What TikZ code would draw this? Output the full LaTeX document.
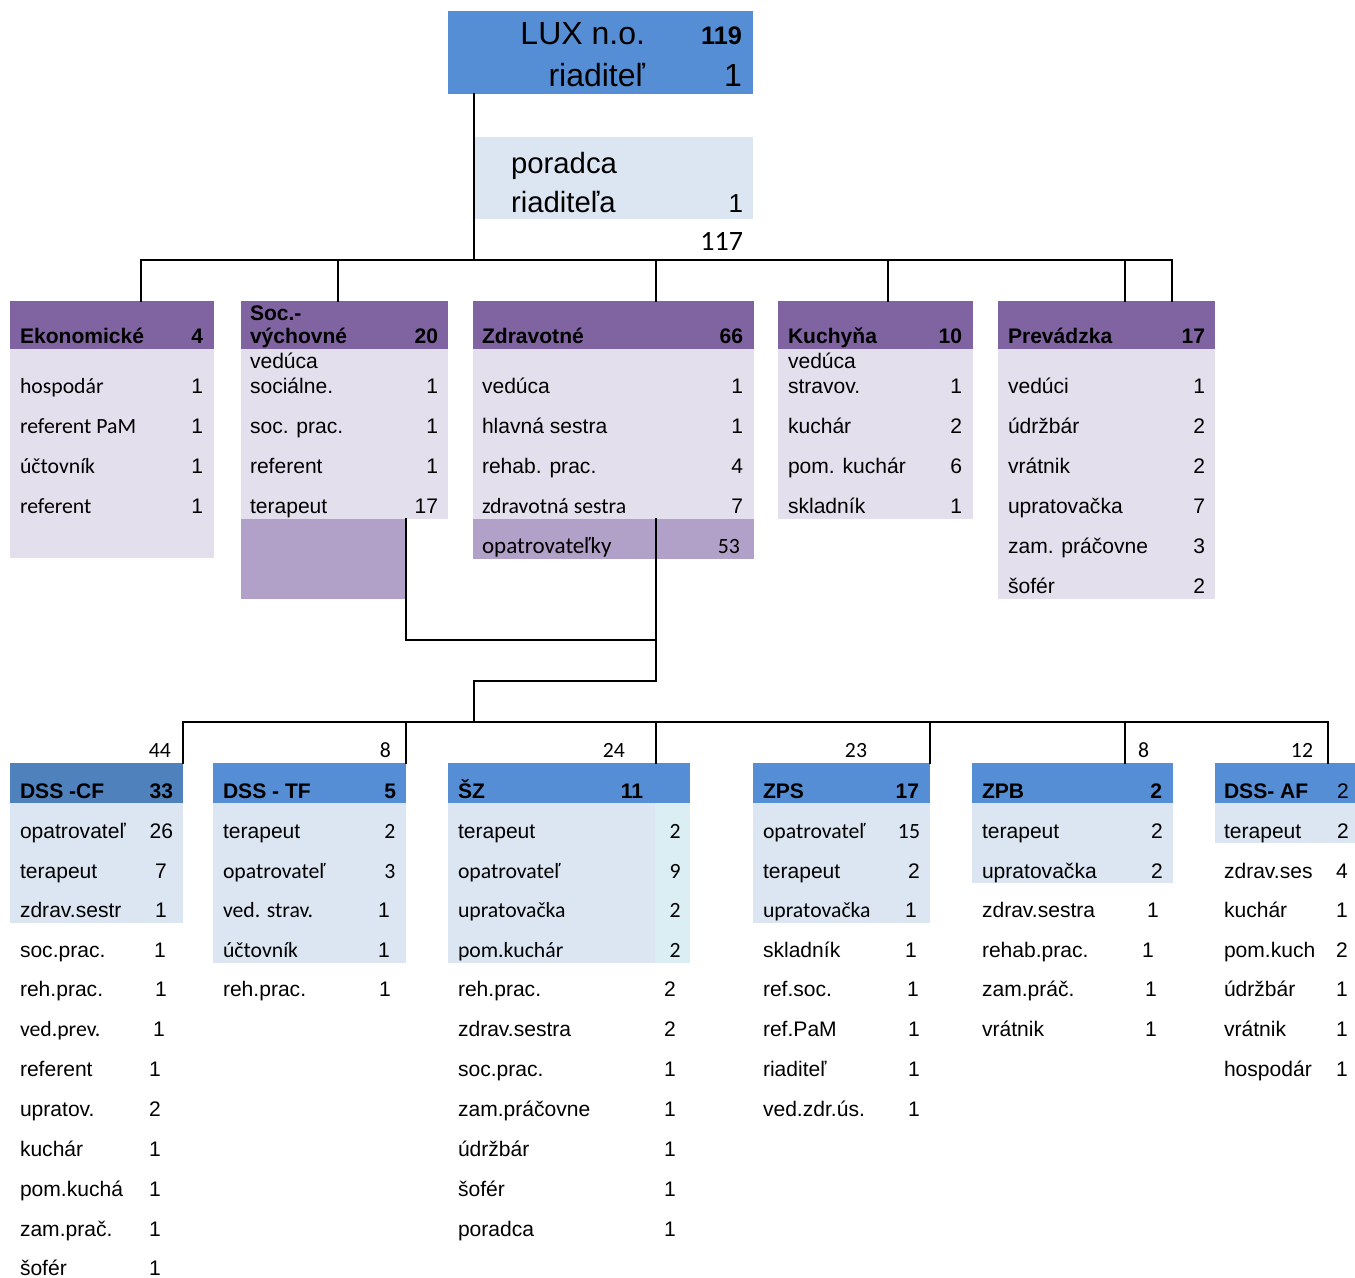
\documentclass[tikz,border=0pt]{standalone}
\usepackage{fontspec}
\setmainfont{Liberation Sans}
\newfontfamily\calfont{Carlito}
\usetikzlibrary{fit}
\definecolor{hblue}{HTML}{558ED5}
\definecolor{hblued}{HTML}{4F81BD}
\definecolor{lblue}{HTML}{DCE6F2}
\definecolor{lcyan}{HTML}{DAEEF3}
\definecolor{hpurp}{HTML}{8064A2}
\definecolor{lpurp}{HTML}{E4DFEC}
\definecolor{mpurp}{HTML}{B1A0C7}
\tikzset{
  area/.style={inner sep=0pt, outer sep=0pt, draw=none},
  txt/.style={inner sep=0pt, outer sep=0pt, font=\fontsize{15.8}{18}\selectfont},
  lbl/.style={txt, anchor=base west},
  numr/.style={txt, anchor=base east},
  numc/.style={txt, anchor=base},
  hd/.style={font=\fontsize{15.8}{18}\selectfont\bfseries},
  cal/.style={font=\fontsize{16.3}{18}\selectfont\calfont},
  conn/.style={line width=1.5pt, line cap=rect},
}
\newcommand\mybox[6]{\node[area, fill=#6, fit={(#2,#3) (#4,#5)}] (#1) {};}
\begin{document}
\begin{tikzpicture}[x=0.75pt, y=-0.75pt]
\useasboundingbox (0,0) rectangle (1355,1277);
% ---------------- top
\mybox{lux}{448}{11}{753}{94}{hblue}
\node[numr, font=\fontsize{24}{28}\selectfont] (luxt) at (645,45) {LUX n.o.};
\node[numr, font=\fontsize{19}{22}\selectfont\bfseries] (luxn) at (742,45) {119};
\node[numr, font=\fontsize{24}{28}\selectfont] (luxr) at (645,87) {riaditeľ};
\node[numr, font=\fontsize{24}{28}\selectfont] (luxrn) at (742,87) {1};
\mybox{por}{475}{137}{753}{219}{lblue}
\node[lbl, font=\fontsize{22}{26}\selectfont] (port) at (511,173) {poradca};
\node[lbl, font=\fontsize{22}{26}\selectfont] (porr) at (511,212) {riaditeľa};
\node[numr, font=\fontsize{19.5}{22}\selectfont] (porn) at (743,212) {1};
\node[numr, font=\fontsize{21}{24}\selectfont\calfont] (sum117) at (743,250) {117};
% ---------------- row 1 boxes
\mybox{ekoh}{10}{301}{214}{349}{hpurp}
\mybox{eko}{10}{349}{214}{558}{lpurp}
\mybox{soch}{241}{301}{448}{349}{hpurp}
\mybox{soc}{241}{349}{448}{519}{lpurp}
\mybox{socx}{241}{519}{405}{599}{mpurp}
\mybox{zdrh}{473}{301}{754}{349}{hpurp}
\mybox{zdr}{473}{349}{754}{519}{lpurp}
\mybox{zdrx}{473}{519}{754}{559}{mpurp}
\mybox{kuch}{778}{301}{973}{349}{hpurp}
\mybox{kuc}{778}{349}{973}{519}{lpurp}
\mybox{prevh}{998}{301}{1215}{349}{hpurp}
\mybox{prev}{998}{349}{1215}{599}{lpurp}
% ---------------- row 1 connectors
\coordinate (b1a) at (141,260);
\coordinate (b1b) at (338,260);
\coordinate (b1t) at (474,260);
\coordinate (b1c) at (656,260);
\coordinate (b1d) at (888,260);
\coordinate (b1e) at (1125,260);
\coordinate (b1f) at (1172,260);
\draw[conn] (lux.south -| b1t) -- (b1t);
\draw[conn] (b1a) -- (b1f);
\draw[conn] (b1a) -- (b1a |- ekoh.north);
\draw[conn] (b1b) -- (b1b |- soch.north);
\draw[conn] (b1c) -- (b1c |- zdrh.north);
\draw[conn] (b1d) -- (b1d |- kuch.north);
\draw[conn] (b1e) -- (b1e |- prevh.north);
\draw[conn] (b1f) -- (b1f |- prevh.north);
% ---------------- row 1 text
\node[lbl, hd] (t1) at (20,343) {Ekonomické};
\node[numr, hd] (t2) at (203,343) {4};
\node[lbl, cal] (e1) at (20,393) {hospodár};
\node[lbl, cal] (e2) at (20,433) {referent PaM};
\node[lbl, cal] (e3) at (20,473) {účtovník};
\node[lbl, cal] (e4) at (20,513) {referent};
\node[numr] (e1n) at (203,393) {1};
\node[numr] (e2n) at (203,433) {1};
\node[numr] (e3n) at (203,473) {1};
\node[numr] (e4n) at (203,513) {1};

\node[lbl, hd] (s0a) at (250,320) {Soc.-};
\node[lbl, hd] (s0b) at (250,343) {výchovné};
\node[numr, hd] (s0n) at (438,343) {20};
\node[lbl] (s1a) at (250,368) {vedúca};
\node[lbl] (s1b) at (250,393) {sociálne.};
\node[numr] (s1n) at (438,393) {1};
\node[lbl] (s2) at (250,433) {soc. prac.};
\node[numr] (s2n) at (438,433) {1};
\node[lbl] (s3) at (250,473) {referent};
\node[numr] (s3n) at (438,473) {1};
\node[lbl] (s4) at (250,513) {terapeut};
\node[numr] (s4n) at (438,513) {17};

\node[lbl, hd] (z0) at (482,343) {Zdravotné};
\node[numr, hd] (z0n) at (743,343) {66};
\node[lbl] (z1) at (482,393) {vedúca};
\node[numr] (z1n) at (743,393) {1};
\node[lbl] (z2) at (482,433) {hlavná sestra};
\node[numr] (z2n) at (743,433) {1};
\node[lbl] (z3) at (482,473) {rehab. prac.};
\node[numr] (z3n) at (743,473) {4};
\node[lbl, cal] (z4) at (482,513) {zdravotná sestra};
\node[numr] (z4n) at (743,513) {7};
\node[lbl, font=\fontsize{17.3}{20}\selectfont\calfont] (z5) at (482,553) {opatrovateľky};
\node[numr, cal] (z5n) at (740,553) {53};

\node[lbl, hd] (k0) at (788,343) {Kuchyňa};
\node[numr, hd] (k0n) at (962,343) {10};
\node[lbl] (k1a) at (788,368) {vedúca};
\node[lbl] (k1b) at (788,393) {stravov.};
\node[numr] (k1n) at (962,393) {1};
\node[lbl] (k2) at (788,433) {kuchár};
\node[numr] (k2n) at (962,433) {2};
\node[lbl] (k3) at (788,473) {pom. kuchár};
\node[numr] (k3n) at (962,473) {6};
\node[lbl] (k4) at (788,513) {skladník};
\node[numr] (k4n) at (962,513) {1};

\node[lbl, hd] (p0) at (1008,343) {Prevádzka};
\node[numr, hd] (p0n) at (1205,343) {17};
\node[lbl] (p1) at (1008,393) {vedúci};
\node[numr] (p1n) at (1205,393) {1};
\node[lbl] (p2) at (1008,433) {údržbár};
\node[numr] (p2n) at (1205,433) {2};
\node[lbl] (p3) at (1008,473) {vrátnik};
\node[numr] (p3n) at (1205,473) {2};
\node[lbl] (p4) at (1008,513) {upratovačka};
\node[numr] (p4n) at (1205,513) {7};
\node[lbl] (p5) at (1008,553) {zam. práčovne};
\node[numr] (p5n) at (1205,553) {3};
\node[lbl] (p6) at (1008,593) {šofér};
\node[numr] (p6n) at (1205,593) {2};

% ---------------- middle connectors
\coordinate (m1) at (406,640);
\coordinate (m2) at (656,640);
\coordinate (m3) at (656,681);
\coordinate (m4) at (474,681);
\coordinate (b2t) at (474,722);
\draw[conn] (soc.south -| m1) -- (m1) -- (m2);
\draw[conn] (zdr.south -| m2) -- (m3) -- (m4) -- (b2t);

% ---------------- row 2 boxes
\mybox{cfh}{10}{763}{183}{803}{hblued}
\mybox{cf}{10}{803}{183}{923}{lblue}
\mybox{tfh}{213}{763}{406}{803}{hblue}
\mybox{tf}{213}{803}{406}{963}{lblue}
\mybox{szh}{448}{763}{690}{803}{hblue}
\mybox{sz}{448}{803}{655}{963}{lblue}
\mybox{szx}{655}{803}{690}{963}{lcyan}
\mybox{zpsh}{753}{763}{930}{803}{hblue}
\mybox{zps}{753}{803}{930}{923}{lblue}
\mybox{zpbh}{972}{763}{1173}{803}{hblue}
\mybox{zpb}{972}{803}{1173}{883}{lblue}
\mybox{afh}{1215}{763}{1355}{803}{hblue}
\mybox{af}{1215}{803}{1355}{843}{lblue}

\coordinate (b2a) at (183,722);
\coordinate (b2b) at (406,722);
\coordinate (b2c) at (656,722);
\coordinate (b2d) at (930,722);
\coordinate (b2e) at (1125,722);
\coordinate (b2f) at (1328,722);
\draw[conn] (b2a) -- (b2f);
\draw[conn] (b2a) -- (b2a |- cfh.north);
\draw[conn] (b2b) -- (b2b |- tfh.north);
\draw[conn] (b2c) -- (b2c |- szh.north);
\draw[conn] (b2d) -- (b2d |- zpsh.north);
\draw[conn] (b2e) -- (b2e |- zpbh.north);
\draw[conn] (b2f) -- (b2f |- afh.north);

% sums above
\node[numr, cal] (u1) at (171,757) {44};
\node[numr, cal] (u2) at (391,757) {8};
\node[numr, cal] (u3) at (625,757) {24};
\node[numr, cal] (u4) at (867,757) {23};
\node[numr, cal] (u5) at (1149,757) {8};
\node[numr, cal] (u6) at (1313,757) {12};

% ---------------- DSS-CF
\node[lbl, hd] (c0) at (20,798) {DSS -CF};
\node[numr, hd] (c0n) at (173,798) {33};
\node[lbl] (c1) at (20,838) {opatrovateľ};
\node[numr] (c1n) at (173,838) {26};
\node[lbl] (c2) at (20,878) {terapeut};
\node[numc] (c2n) at (161,878) {7};
\node[lbl] (c3) at (20,917) {zdrav.sestr};
\node[numc] (c3n) at (161,917) {1};
\node[lbl] (c4) at (20,957) {soc.prac.};
\node[numc] (c4n) at (160,957) {1};
\node[lbl] (c5) at (20,996) {reh.prac.};
\node[numc] (c5n) at (161,996) {1};
\node[lbl, cal] (c6) at (20,1036) {ved.prev.};
\node[numc] (c6n) at (159,1036) {1};
\node[lbl] (c7) at (20,1076) {referent};
\node[numc] (c7n) at (155,1076) {1};
\node[lbl] (c8) at (20,1116) {upratov.};
\node[numc] (c8n) at (155,1116) {2};
\node[lbl] (c9) at (20,1156) {kuchár};
\node[numc] (c9n) at (155,1156) {1};
\node[lbl] (c10) at (20,1196) {pom.kuchá};
\node[numc] (c10n) at (155,1196) {1};
\node[lbl] (c11) at (20,1236) {zam.prač.};
\node[numc] (c11n) at (155,1236) {1};
\node[lbl] (c12) at (20,1275) {šofér};
\node[numc] (c12n) at (155,1275) {1};

% ---------------- DSS-TF
\node[lbl, hd] (f0) at (223,798) {DSS - TF};
\node[numr, hd] (f0n) at (396,798) {5};
\node[lbl] (f1) at (223,838) {terapeut};
\node[numc, cal] (f1n) at (390,838) {2};
\node[lbl, cal] (f2) at (223,878) {opatrovateľ};
\node[numc, cal] (f2n) at (390,878) {3};
\node[lbl, cal] (f3) at (223,917) {ved. strav.};
\node[numc] (f3n) at (384,917) {1};
\node[lbl, cal] (f4) at (223,957) {účtovník};
\node[numc] (f4n) at (384,957) {1};
\node[lbl] (f5) at (223,996) {reh.prac.};
\node[numc] (f5n) at (385,996) {1};

% ---------------- SZ
\node[lbl, hd] (sz0) at (458,798) {ŠZ};
\node[numc, hd] (sz0n) at (632,798) {11};
\node[lbl] (sz1) at (458,838) {terapeut};
\node[numc, cal] (sz1n) at (675,838) {2};
\node[lbl, cal] (sz2) at (458,878) {opatrovateľ};
\node[numc, cal] (sz2n) at (675,878) {9};
\node[lbl, cal] (sz3) at (458,917) {upratovačka};
\node[numc, cal] (sz3n) at (675,917) {2};
\node[lbl, cal] (sz4) at (458,957) {pom.kuchár};
\node[numc, cal] (sz4n) at (675,957) {2};
\node[lbl] (sz5) at (458,996) {reh.prac.};
\node[numc] (sz5n) at (670,996) {2};
\node[lbl] (sz6) at (458,1036) {zdrav.sestra};
\node[numc] (sz6n) at (670,1036) {2};
\node[lbl] (sz7) at (458,1076) {soc.prac.};
\node[numc] (sz7n) at (670,1076) {1};
\node[lbl] (sz8) at (458,1116) {zam.práčovne};
\node[numc] (sz8n) at (670,1116) {1};
\node[lbl] (sz9) at (458,1156) {údržbár};
\node[numc] (sz9n) at (670,1156) {1};
\node[lbl] (sz10) at (458,1196) {šofér};
\node[numc] (sz10n) at (670,1196) {1};
\node[lbl] (sz11) at (458,1236) {poradca};
\node[numc] (sz11n) at (670,1236) {1};

% ---------------- ZPS
\node[lbl, hd] (q0) at (763,798) {ZPS};
\node[numr, hd] (q0n) at (919,798) {17};
\node[lbl, cal] (q1) at (763,838) {opatrovateľ};
\node[numc, cal] (q1n) at (909,838) {15};
\node[lbl] (q2) at (763,878) {terapeut};
\node[numc] (q2n) at (914,878) {2};
\node[lbl, cal] (q3) at (763,917) {upratovačka};
\node[numc] (q3n) at (911,917) {1};
\node[lbl] (q4) at (763,957) {skladník};
\node[numc] (q4n) at (911,957) {1};
\node[lbl] (q5) at (763,996) {ref.soc.};
\node[numc] (q5n) at (913,996) {1};
\node[lbl] (q6) at (763,1036) {ref.PaM};
\node[numc] (q6n) at (914,1036) {1};
\node[lbl] (q7) at (763,1076) {riaditeľ};
\node[numc] (q7n) at (914,1076) {1};
\node[lbl] (q8) at (763,1116) {ved.zdr.ús.};
\node[numc] (q8n) at (914,1116) {1};

% ---------------- ZPB
\node[lbl, hd] (w0) at (982,798) {ZPB};
\node[numr, hd] (w0n) at (1162,798) {2};
\node[lbl] (w1) at (982,838) {terapeut};
\node[numc] (w1n) at (1157,838) {2};
\node[lbl] (w2) at (982,878) {upratovačka};
\node[numc] (w2n) at (1157,878) {2};
\node[lbl] (w3) at (982,917) {zdrav.sestra};
\node[numc] (w3n) at (1153,917) {1};
\node[lbl] (w4) at (982,957) {rehab.prac.};
\node[numc] (w4n) at (1148,957) {1};
\node[lbl] (w5) at (982,996) {zam.práč.};
\node[numc] (w5n) at (1151,996) {1};
\node[lbl] (w6) at (982,1036) {vrátnik};
\node[numc] (w6n) at (1151,1036) {1};

% ---------------- DSS-AF
\node[lbl, hd] (a0) at (1224,798) {DSS- AF};
\node[numc] (a0n) at (1343,798) {2};
\node[lbl] (a1) at (1224,838) {terapeut};
\node[numc] (a1n) at (1343,838) {2};
\node[lbl] (a2) at (1224,878) {zdrav.ses};
\node[numc] (a2n) at (1342,878) {4};
\node[lbl] (a3) at (1224,917) {kuchár};
\node[numc] (a3n) at (1342,917) {1};
\node[lbl] (a4) at (1224,957) {pom.kuch};
\node[numc] (a4n) at (1342,957) {2};
\node[lbl] (a5) at (1224,996) {údržbár};
\node[numc] (a5n) at (1342,996) {1};
\node[lbl] (a6) at (1224,1036) {vrátnik};
\node[numc] (a6n) at (1342,1036) {1};
\node[lbl] (a7) at (1224,1076) {hospodár};
\node[numc] (a7n) at (1342,1076) {1};
\end{tikzpicture}
\end{document}
